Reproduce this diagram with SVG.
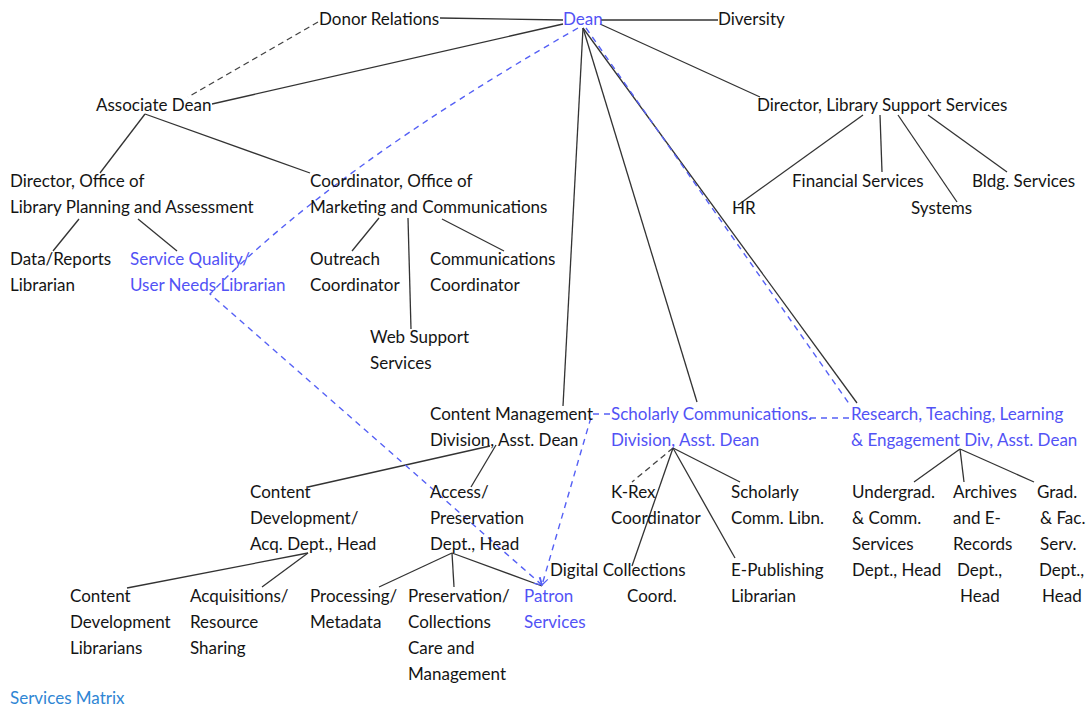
<svg xmlns="http://www.w3.org/2000/svg" width="1086" height="708" viewBox="0 0 1086 708">
<defs>
<style>
text{font-family:Lato,"Liberation Sans",sans-serif;font-size:17px;fill:#141414}
text.b{fill:#5252f5}
text.m{fill:#2f86d4}
.ln{stroke:#333;stroke-width:1.3;fill:none}
.dk{stroke:#444;stroke-width:1.3;fill:none;stroke-dasharray:6 4}
.bl{stroke:#5560f5;stroke-width:1.4;fill:none;stroke-dasharray:6 5}
</style>
<marker id="ah" markerWidth="10" markerHeight="10" refX="8" refY="5" orient="auto" markerUnits="userSpaceOnUse">
<path d="M1,1 L8,5 L1,9" fill="none" stroke="#5560f5" stroke-width="1.3"/>
</marker>
</defs>
<rect width="1086" height="708" fill="#fff"/>
<g id="connectors">
<path class="ln" d="M440,18 L563,20"/>
<path class="ln" d="M601,20 L718,20"/>
<path class="ln" d="M563,24 L212,104"/>
<path class="ln" d="M600,24 L760,97"/>
<path class="ln" d="M583,28 L563,406"/>
<path class="ln" d="M583,28 L697,402"/>
<path class="ln" d="M583,28 L857,403"/>
<path class="dk" d="M318,22 L188,97"/>
<path class="ln" d="M145,114 L100,173"/>
<path class="ln" d="M145,114 L310,173"/>
<path class="ln" d="M79,219 L53,251"/>
<path class="ln" d="M138,219 L177,251"/>
<path class="ln" d="M379,218 L352,251"/>
<path class="ln" d="M408,218 L411,329"/>
<path class="ln" d="M442,219 L504,251"/>
<path class="ln" d="M863,115 L738,205"/>
<path class="ln" d="M880,115 L882,172"/>
<path class="ln" d="M898,115 L957,202"/>
<path class="ln" d="M928,115 L1007,172"/>
<path class="ln" d="M490,446 L308,487"/>
<path class="ln" d="M496,445 L471,487"/>
<path class="ln" d="M308,553 L127,588"/>
<path class="ln" d="M308,553 L262,587"/>
<path class="ln" d="M452,553 L379,587"/>
<path class="ln" d="M452,553 L454,587"/>
<path class="ln" d="M452,553 L542,586"/>
<path class="dk" d="M673,448 L632,482"/>
<path class="ln" d="M673,448 L740,482"/>
<path class="ln" d="M673,448 L632,566"/>
<path class="ln" d="M673,448 L735,558"/>
<path class="ln" d="M960,449 L914,482"/>
<path class="ln" d="M960,449 L964,482"/>
<path class="ln" d="M960,449 L1034,482"/>
<path class="bl" d="M578,28 Q330,170 210,294 L542,585" marker-end="url(#ah)"/>
<path class="bl" d="M610,414 L592,414 L542,585" marker-end="url(#ah)"/>
<path class="bl" d="M586,28 L850,405"/>
<path class="bl" d="M810,418 L852,418"/>
</g>
<g id="n-donor"><text x="319" y="25">Donor Relations</text></g>
<g id="n-dean"><text class="b" x="563" y="25">Dean</text></g>
<g id="n-diversity"><text x="718" y="25">Diversity</text></g>
<g id="n-assoc"><text x="96" y="111">Associate Dean</text></g>
<g id="n-dlss"><text x="757" y="111">Director, Library Support Services</text></g>
<g id="n-dolpa"><text x="10" y="187">Director, Office of<tspan x="10" dy="26">Library Planning and Assessment</tspan></text></g>
<g id="n-comc"><text x="310" y="187">Coordinator, Office of<tspan x="310" dy="26">Marketing and Communications</tspan></text></g>
<g id="n-hr"><text x="732" y="214">HR</text></g>
<g id="n-fin"><text x="792" y="187">Financial Services</text></g>
<g id="n-sys"><text x="911" y="214">Systems</text></g>
<g id="n-bldg"><text x="972" y="187">Bldg. Services</text></g>
<g id="n-data"><text x="10" y="265">Data/Reports<tspan x="10" dy="26">Librarian</tspan></text></g>
<g id="n-sq"><text class="b" x="130" y="265">Service Quality/<tspan x="130" dy="26">User Needs Librarian</tspan></text></g>
<g id="n-outreach"><text x="310" y="265">Outreach<tspan x="310" dy="26">Coordinator</tspan></text></g>
<g id="n-commcoord"><text x="430" y="265">Communications<tspan x="430" dy="26">Coordinator</tspan></text></g>
<g id="n-web"><text x="370" y="343">Web Support<tspan x="370" dy="26">Services</tspan></text></g>
<g id="n-cm"><text x="430" y="420">Content Management<tspan x="430" dy="26">Division, Asst. Dean</tspan></text></g>
<g id="n-sc"><text class="b" x="611" y="420">Scholarly Communications.<tspan x="611" dy="26">Division, Asst. Dean</tspan></text></g>
<g id="n-rtl"><text class="b" x="851" y="420">Research, Teaching, Learning<tspan x="851" dy="26">&amp; Engagement Div, Asst. Dean</tspan></text></g>
<g id="n-cd"><text x="250" y="498">Content<tspan x="250" dy="26">Development/</tspan><tspan x="250" dy="26">Acq. Dept., Head</tspan></text></g>
<g id="n-ap"><text x="430" y="498">Access/<tspan x="430" dy="26">Preservation</tspan><tspan x="430" dy="26">Dept., Head</tspan></text></g>
<g id="n-krex"><text x="611" y="498">K-Rex<tspan x="611" dy="26">Coordinator</tspan></text></g>
<g id="n-scl"><text x="731" y="498">Scholarly<tspan x="731" dy="26">Comm. Libn.</tspan></text></g>
<g id="n-ug"><text x="852" y="498">Undergrad.<tspan x="852" dy="26">&amp; Comm.</tspan><tspan x="852" dy="26">Services</tspan><tspan x="852" dy="26">Dept., Head</tspan></text></g>
<g id="n-arch"><text x="953" y="498">Archives<tspan x="953" dy="26">and E-</tspan><tspan x="953" dy="26">Records</tspan><tspan x="957" dy="26">Dept.,</tspan><tspan x="960" dy="26">Head</tspan></text></g>
<g id="n-grad"><text x="1037" y="498">Grad.<tspan x="1040" dy="26">&amp; Fac.</tspan><tspan x="1040" dy="26">Serv.</tspan><tspan x="1039" dy="26">Dept.,</tspan><tspan x="1042" dy="26">Head</tspan></text></g>
<g id="n-dc"><text x="550" y="576">Digital Collections<tspan x="627" dy="26">Coord.</tspan></text></g>
<g id="n-ep"><text x="731" y="576">E-Publishing<tspan x="731" dy="26">Librarian</tspan></text></g>
<g id="n-cdl"><text x="70" y="602">Content<tspan x="70" dy="26">Development</tspan><tspan x="70" dy="26">Librarians</tspan></text></g>
<g id="n-acq"><text x="190" y="602">Acquisitions/<tspan x="190" dy="26">Resource</tspan><tspan x="190" dy="26">Sharing</tspan></text></g>
<g id="n-proc"><text x="310" y="602">Processing/<tspan x="310" dy="26">Metadata</tspan></text></g>
<g id="n-pres"><text x="408" y="602">Preservation/<tspan x="408" dy="26">Collections</tspan><tspan x="408" dy="26">Care and</tspan><tspan x="408" dy="26">Management</tspan></text></g>
<g id="n-patron"><text class="b" x="524" y="602">Patron<tspan x="524" dy="26">Services</tspan></text></g>
<g id="n-matrix"><text class="m" x="10" y="704">Services Matrix</text></g>
</svg>
